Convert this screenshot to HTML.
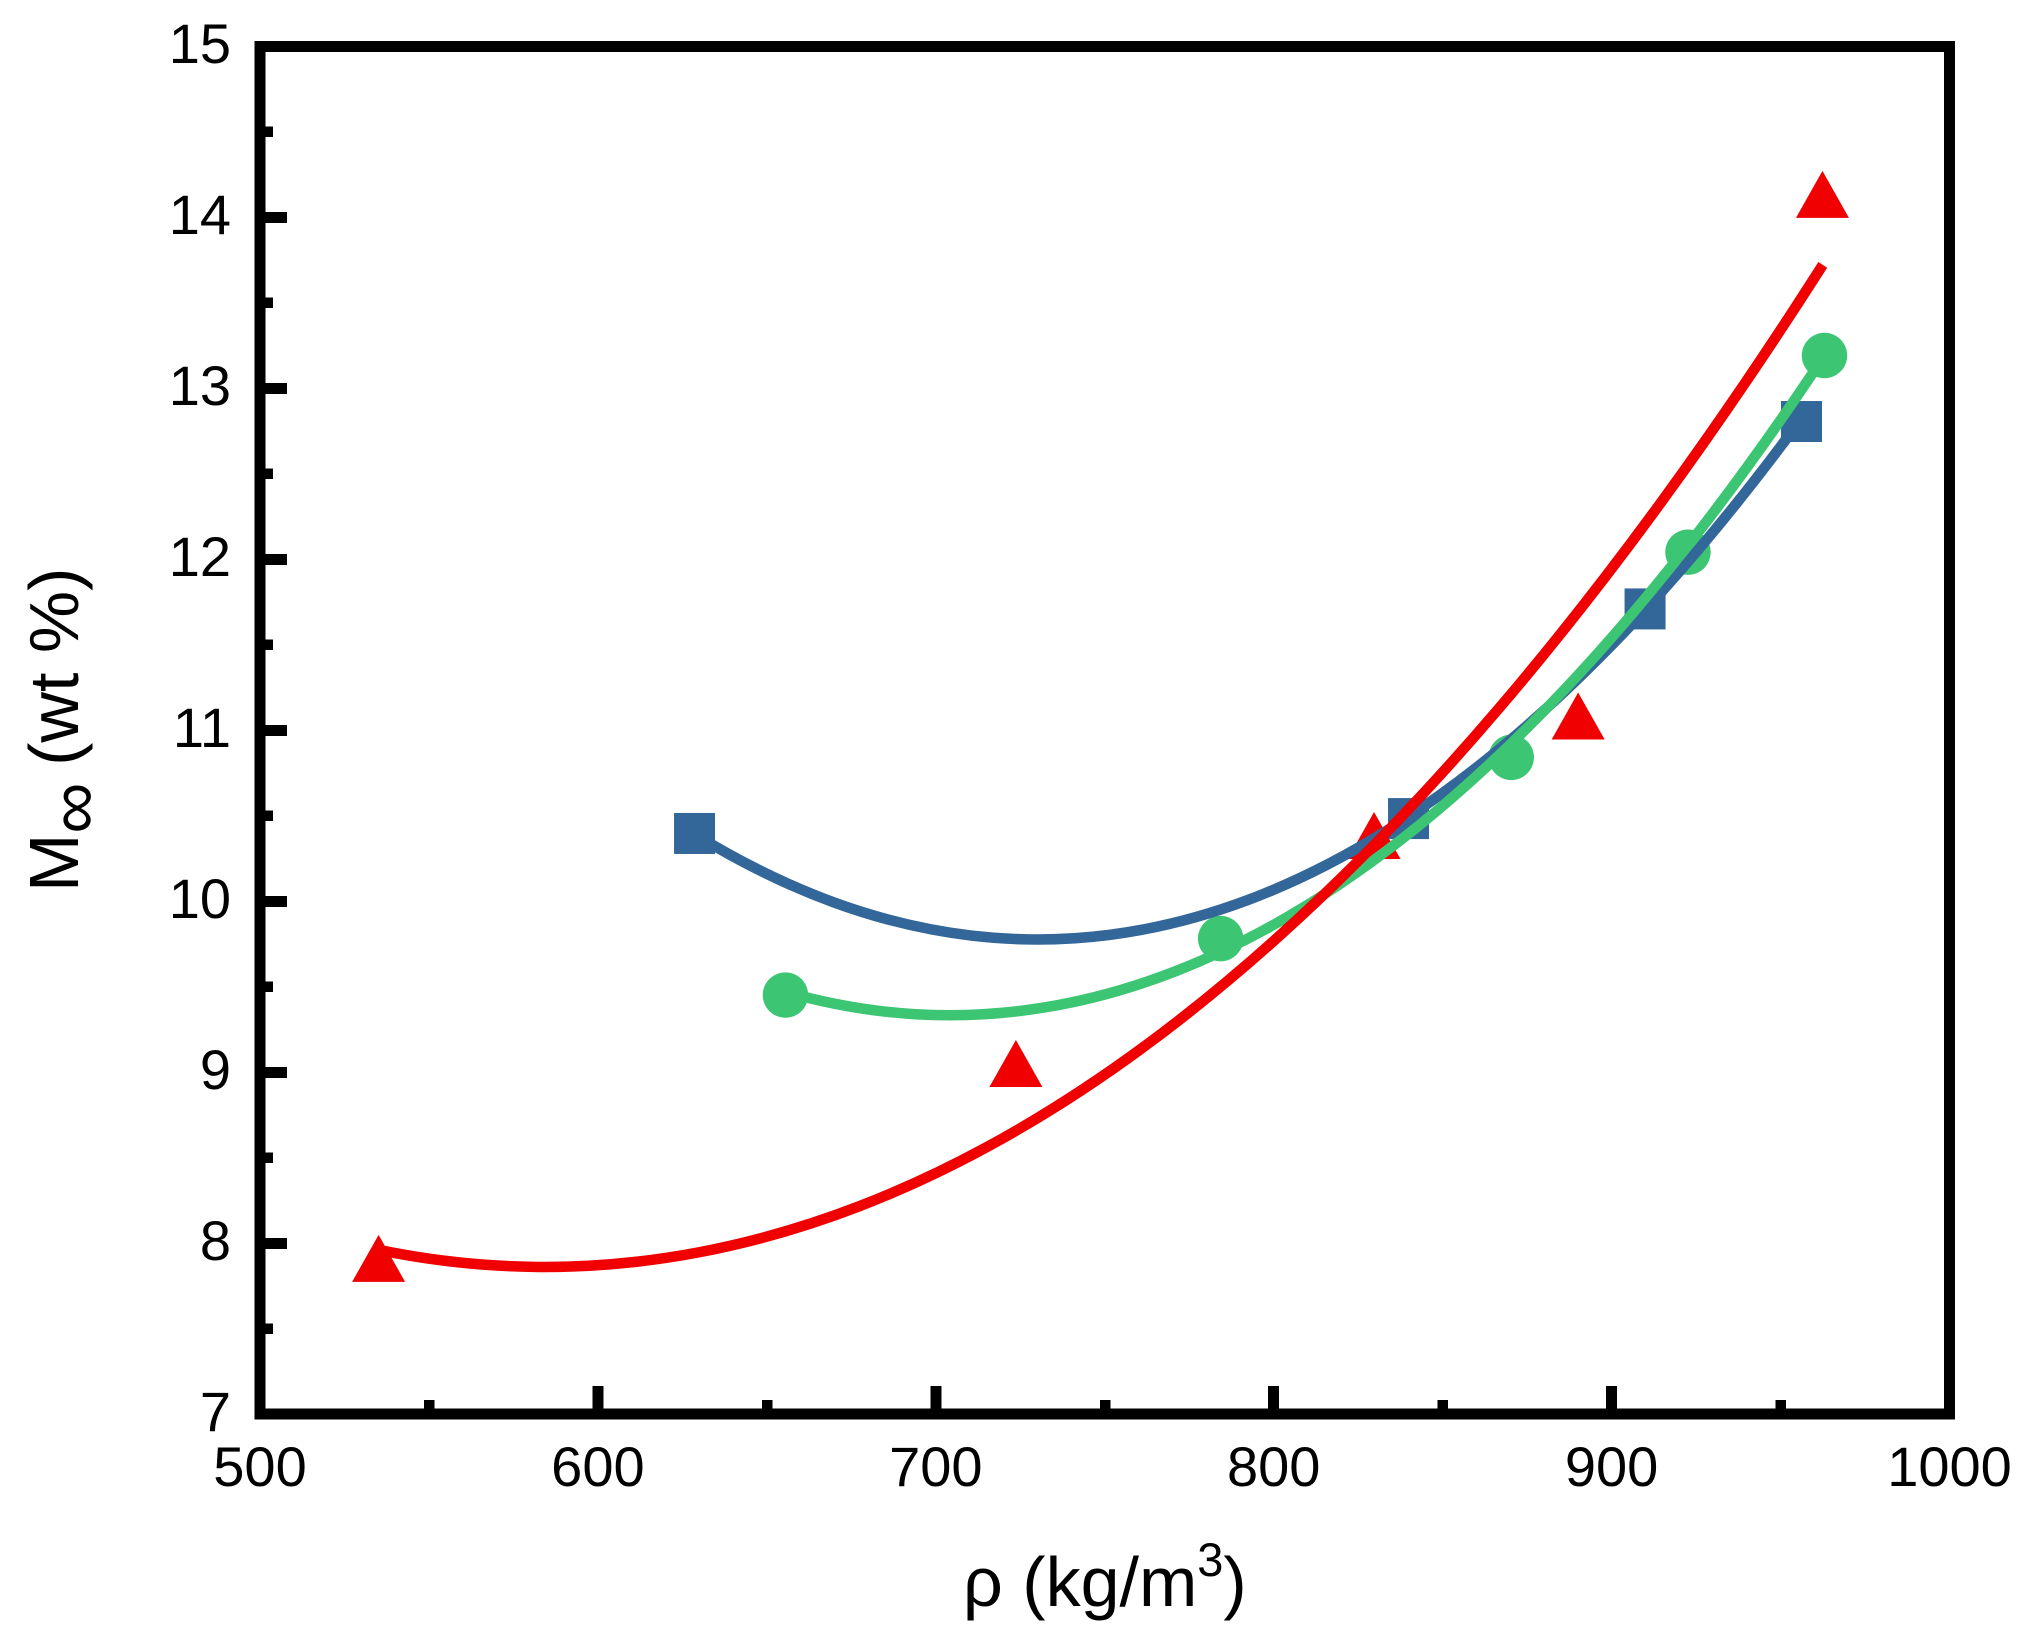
<!DOCTYPE html>
<html lang="en">
<head>
<meta charset="utf-8">
<title>Moisture content versus density</title>
<style>
html,body{margin:0;padding:0;background:#fff;width:2036px;height:1640px;overflow:hidden}
svg{display:block}
text{font-family:"Liberation Sans",sans-serif;fill:#000}
</style>
</head>
<body>
<svg id="chart" xmlns="http://www.w3.org/2000/svg" width="2036" height="1640" viewBox="0 0 2036 1640">
  <rect x="0" y="0" width="2036" height="1640" fill="#fff"/>
  <g id="ticks"></g>
  <g id="tick-labels"></g>
  <g id="markers"></g>
  <g id="curves"></g>
  <rect x="260" y="46.5" width="1689.5" height="1367.5" fill="none" stroke="#000" stroke-width="11" shape-rendering="crispEdges"/>
  <text x="963" y="1606" font-size="70">ρ (kg/m<tspan font-size="47" dy="-30">3</tspan><tspan dy="30">)</tspan></text>
  <text transform="translate(78,892) rotate(-90)" font-size="70">M<tspan font-size="72" dy="20">∞</tspan><tspan dy="-20" dx="-3"> (wt %)</tspan></text>
</svg>
<script>
const xTickValues = [500, 600, 700, 800, 900, 1000];
const xMinorTickValues = [550, 650, 750, 850, 950];
const yTickValues = [7, 8, 9, 10, 11, 12, 13, 14, 15];
const yMinorTickValues = [7.5, 8.5, 9.5, 10.5, 11.5, 12.5, 13.5, 14.5];

const squareX = [628.6, 839.9, 909.9, 956.2];
const squareY = [10.395, 10.482, 11.708, 12.804];
const circleX = [655.5, 784.3, 870.3, 922.6, 963];
const circleY = [9.45, 9.78, 10.84, 12.04, 13.19];
const triangleX = [535.1, 723.7, 829.7, 890.1, 962.4];
const triangleY = [7.91, 9.05, 10.383, 11.082, 14.132];

const blueCurveX = [628.6, 669.55, 710.5, 751.45, 792.4, 833.35, 874.3, 915.25, 956.2];
const blueCurveY = [10.391, 9.994, 9.798, 9.802, 10.006, 10.41, 11.014, 11.818, 12.822];
const greenCurveX = [655.5, 693.94, 732.38, 770.81, 809.25, 847.69, 886.13, 924.56, 963];
const greenCurveY = [9.469, 9.338, 9.378, 9.588, 9.968, 10.518, 11.238, 12.129, 13.19];
const redCurveX = [535, 582.5, 630, 677.5, 725, 772.5, 820, 867.5, 915, 962.5];
const redCurveY = [7.96, 7.86, 7.946, 8.216, 8.671, 9.311, 10.136, 11.146, 12.341, 13.72];

const NS = 'http://www.w3.org/2000/svg';
const BLUE = '#336699';
const GREEN = '#3cc572';
const RED = '#f00000';
const LEFT = 260, RIGHT = 1949.5, TOP = 46, BOTTOM = 1414;

function xPos(v) { return LEFT + (v - 500) / (1000 - 500) * (RIGHT - LEFT); }
function yPos(v) { return BOTTOM - (v - 7) / (15 - 7) * (BOTTOM - TOP); }

function smoothPath(xs, ys) {
  const p = xs.map((x, i) => [xPos(x), yPos(ys[i])]);
  const n = p.length;
  const before = [3 * p[0][0] - 3 * p[1][0] + p[2][0], 3 * p[0][1] - 3 * p[1][1] + p[2][1]];
  const after = [3 * p[n - 1][0] - 3 * p[n - 2][0] + p[n - 3][0], 3 * p[n - 1][1] - 3 * p[n - 2][1] + p[n - 3][1]];
  let d = 'M' + p[0][0] + ' ' + p[0][1];
  for (let i = 0; i < n - 1; i++) {
    const a = i > 0 ? p[i - 1] : before, b = p[i], c = p[i + 1], e = i + 2 < n ? p[i + 2] : after;
    d += ' C' + (b[0] + (c[0] - a[0]) / 6) + ' ' + (b[1] + (c[1] - a[1]) / 6) +
         ' ' + (c[0] - (e[0] - b[0]) / 6) + ' ' + (c[1] - (e[1] - b[1]) / 6) +
         ' ' + c[0] + ' ' + c[1];
  }
  return d;
}

const tickGroup = document.getElementById('ticks');
const labelGroup = document.getElementById('tick-labels');
const markerGroup = document.getElementById('markers');
const curveGroup = document.getElementById('curves');

function addTickRect(parent, x, y, w, h) {
  const el = document.createElementNS(NS, 'rect');
  el.setAttribute('x', x);
  el.setAttribute('y', y);
  el.setAttribute('width', w);
  el.setAttribute('height', h);
  el.setAttribute('fill', '#000');
  el.setAttribute('shape-rendering', 'crispEdges');
  parent.appendChild(el);
  return el;
}

xTickValues.forEach((v, i) => {
  if (i > 0 && i < xTickValues.length - 1) {
    const el = addTickRect(tickGroup, xPos(v) - 5.5, 1386, 11, 28);
    
    
  }
  const t = document.createElementNS(NS, 'text');
  
  
  t.setAttribute('x', xPos(v));
  t.setAttribute('y', 1486);
  t.setAttribute('font-size', 56);
  t.setAttribute('text-anchor', 'middle');
  t.textContent = v;
  labelGroup.appendChild(t);
});
xMinorTickValues.forEach(v => {
  const el = addTickRect(tickGroup, xPos(v) - 5, 1400, 10.5, 14);
  
  
});
yTickValues.forEach((v, i) => {
  if (i > 0 && i < yTickValues.length - 1) {
    const el = addTickRect(tickGroup, 260, yPos(v) - 5, 27, 11);
    
    
  }
  const t = document.createElementNS(NS, 'text');
  
  
  t.setAttribute('x', 231);
  t.setAttribute('y', yPos(v) + 17);
  t.setAttribute('font-size', 56);
  t.setAttribute('text-anchor', 'end');
  t.textContent = v;
  labelGroup.appendChild(t);
});
yMinorTickValues.forEach(v => {
  const el = addTickRect(tickGroup, 260, yPos(v) - 5, 13, 10.5);
  
  
});

triangleX.forEach((x, i) => {
  const cx = xPos(x), cy = yPos(triangleY[i]);
  const el = document.createElementNS(NS, 'polygon');
  
  
  el.setAttribute('points', (cx - 26.5) + ',' + (cy + 23.5) + ' ' + (cx + 26.5) + ',' + (cy + 23.5) + ' ' + cx + ',' + (cy - 23.5));
  el.setAttribute('fill', RED);
  markerGroup.appendChild(el);
});
circleX.forEach((x, i) => {
  const el = document.createElementNS(NS, 'circle');
  
  
  el.setAttribute('cx', xPos(x));
  el.setAttribute('cy', yPos(circleY[i]));
  el.setAttribute('r', 22.7);
  el.setAttribute('fill', GREEN);
  markerGroup.appendChild(el);
});
squareX.forEach((x, i) => {
  const el = document.createElementNS(NS, 'rect');
  
  
  el.setAttribute('x', xPos(x) - 20.5);
  el.setAttribute('y', yPos(squareY[i]) - 20.5);
  el.setAttribute('width', 41);
  el.setAttribute('height', 41);
  el.setAttribute('fill', BLUE);
  markerGroup.appendChild(el);
});

const blueCurve = document.createElementNS(NS, 'path');


blueCurve.setAttribute('d', smoothPath(blueCurveX, blueCurveY));
blueCurve.setAttribute('stroke', BLUE);
curveGroup.appendChild(blueCurve);

const greenCurve = document.createElementNS(NS, 'path');


greenCurve.setAttribute('d', smoothPath(greenCurveX, greenCurveY));
greenCurve.setAttribute('stroke', GREEN);
curveGroup.appendChild(greenCurve);

const redCurve = document.createElementNS(NS, 'path');


redCurve.setAttribute('d', smoothPath(redCurveX, redCurveY));
redCurve.setAttribute('stroke', RED);
curveGroup.appendChild(redCurve);

[blueCurve, greenCurve, redCurve].forEach(c => {
  c.setAttribute('fill', 'none');
  c.setAttribute('stroke-width', 10.5);
});
</script>
</body>
</html>
